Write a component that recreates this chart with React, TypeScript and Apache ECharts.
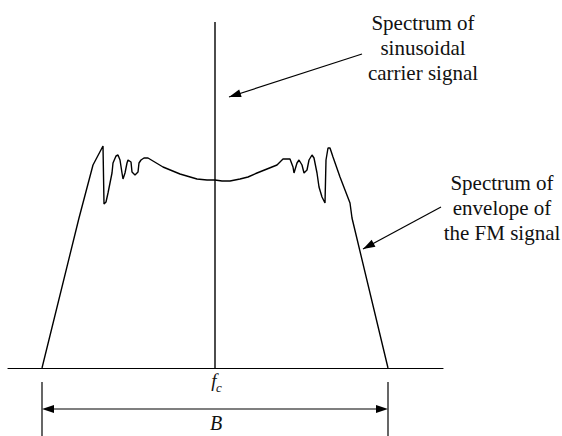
import React, { useEffect, useRef } from "react";
import * as echarts from "echarts";

// Envelope spectrum of the FM signal (frequency offset from fc, amplitude) — arbitrary units
const envelopeFreq = [
  -173, -136, -122, -112, -111, -109, -107, -105, -103, -102, -99, -97, -95, -93, -92, -90, -88, -87, -84, -83,
  -80, -77, -76, -74, -71, -67, -62, -52, -35, -18, -8, 0, 7, 15, 25, 33, 42, 52, 62, 68, 75, 78, 79, 82, 84,
  87, 89, 92, 94, 97, 99, 102, 104, 107, 110, 111, 113, 115, 118, 125, 135, 137, 173,
];
const envelopeAmp = [
  0, 150, 203, 222, 164, 166, 175, 185, 195, 205, 212, 213, 208, 195, 189, 195, 205, 208, 206, 196,
  193, 196, 205, 208, 210, 210, 207, 201, 194, 189, 188, 188, 187, 187, 189, 191, 195, 199, 203, 209, 209, 201, 195, 205, 208,
  203, 195, 198, 208, 213, 210, 195, 181, 171, 165, 208, 220, 220, 211, 191, 165, 150, 0,
];
// Carrier spectral line at fc
const carrierFreq = [0, 0];
const carrierAmp = [0, 346];
// Bandwidth B edges and axis extents
const bandEdges = [-173, 173];
const freqRange = [-207, 228];
const ampRange = [0, 368];
// Annotation targets (data points the arrows point at)
const carrierArrowTarget = [14, 271];
const envelopeArrowTarget = [148, 119];

const SERIF = "'Liberation Serif', 'Times New Roman', 'DejaVu Serif', serif";

function arrowHead(tip: number[], from: number[], len = 12, hw = 4) {
  const dx = tip[0] - from[0];
  const dy = tip[1] - from[1];
  const d = Math.hypot(dx, dy) || 1;
  const ux = dx / d, uy = dy / d;
  const bx = tip[0] - ux * len, by = tip[1] - uy * len;
  const px = -uy, py = ux;
  return [
    [tip[0], tip[1]],
    [bx + px * hw, by + py * hw],
    [bx - px * hw, by - py * hw],
  ];
}

export default function App() {
  const ref = useRef<HTMLDivElement>(null);
  useEffect(() => {
    const chart = echarts.init(ref.current!, null, { renderer: "svg" });
    chart.setOption({
      animation: false,
      grid: { left: 8, right: 119, top: 0, bottom: 68 },
      xAxis: {
        type: "value",
        min: freqRange[0],
        max: freqRange[1],
        axisLine: { show: true, onZero: false, lineStyle: { color: "#000", width: 1.2 } },
        axisTick: { show: false },
        axisLabel: { show: false },
        splitLine: { show: false },
      },
      yAxis: {
        type: "value",
        min: ampRange[0],
        max: ampRange[1],
        show: false,
        splitLine: { show: false },
      },
      series: [
        {
          type: "line",
          name: "envelope",
          data: envelopeFreq.map((f, i) => [f, envelopeAmp[i]]),
          showSymbol: false,
          symbol: "none",
          lineStyle: { color: "#000", width: 1.4 },
          z: 3,
        },
        {
          type: "line",
          name: "carrier",
          data: carrierFreq.map((f, i) => [f, carrierAmp[i]]),
          showSymbol: false,
          symbol: "none",
          lineStyle: { color: "#000", width: 1.4 },
          z: 3,
        },
      ],
    });

    const p = (x: number, y: number) => chart.convertToPixel({ gridIndex: 0 }, [x, y]) as number[];
    const axisY = p(0, 0)[1];
    const leftX = p(bandEdges[0], 0)[0];
    const rightX = p(bandEdges[1], 0)[0];
    const centerX = p(0, 0)[0];
    const dimY = axisY + 41;

    const tip1 = p(carrierArrowTarget[0], carrierArrowTarget[1]);
    const tail1 = [362, 54];
    const tip2 = p(envelopeArrowTarget[0], envelopeArrowTarget[1]);
    const tail2 = [441, 207];

    const lineStyle = { stroke: "#000", lineWidth: 1.2 };
    const textBase = { fill: "#111", fontFamily: SERIF };

    chart.setOption({
      graphic: [
        { type: "line", shape: { x1: leftX, y1: axisY + 14, x2: leftX, y2: 436 }, style: lineStyle },
        { type: "line", shape: { x1: rightX, y1: axisY + 14, x2: rightX, y2: 436 }, style: lineStyle },
        { type: "line", shape: { x1: leftX + 6, y1: dimY, x2: rightX - 6, y2: dimY }, style: lineStyle },
        { type: "polygon", shape: { points: arrowHead([leftX, dimY], [rightX, dimY]) }, style: { fill: "#000" } },
        { type: "polygon", shape: { points: arrowHead([rightX, dimY], [leftX, dimY]) }, style: { fill: "#000" } },
        {
          type: "text",
          x: centerX - 1,
          y: axisY + 12,
          style: { ...textBase, text: "f", fontSize: 19, fontStyle: "italic", textAlign: "center", textVerticalAlign: "middle" },
        },
        {
          type: "text",
          x: centerX + 1,
          y: axisY + 19,
          style: { ...textBase, text: "c", fontSize: 13, fontStyle: "italic", textAlign: "left", textVerticalAlign: "middle" },
        },
        {
          type: "text",
          x: centerX + 1,
          y: dimY + 14,
          style: { ...textBase, text: "B", fontSize: 20, fontStyle: "italic", textAlign: "center", textVerticalAlign: "middle" },
        },
        { type: "line", shape: { x1: tail1[0], y1: tail1[1], x2: tip1[0], y2: tip1[1] }, style: lineStyle },
        { type: "polygon", shape: { points: arrowHead(tip1, tail1) }, style: { fill: "#000" } },
        { type: "line", shape: { x1: tail2[0], y1: tail2[1], x2: tip2[0], y2: tip2[1] }, style: lineStyle },
        { type: "polygon", shape: { points: arrowHead(tip2, tail2) }, style: { fill: "#000" } },
        {
          type: "text",
          x: 423,
          y: 48,
          style: {
            ...textBase,
            text: "Spectrum of\nsinusoidal\ncarrier signal",
            fontSize: 21,
            lineHeight: 25,
            textAlign: "center",
            textVerticalAlign: "middle",
          },
        },
        {
          type: "text",
          x: 502,
          y: 208,
          style: {
            ...textBase,
            text: "Spectrum of\nenvelope of\nthe FM signal",
            fontSize: 21,
            lineHeight: 25,
            textAlign: "center",
            textVerticalAlign: "middle",
          },
        },
      ],
    });

    return () => chart.dispose();
  }, []);
  return (
    <div
      ref={ref}
      style={{ position: "fixed", left: 0, top: 0, width: 562, height: 436, background: "#fff" }}
    />
  );
}
